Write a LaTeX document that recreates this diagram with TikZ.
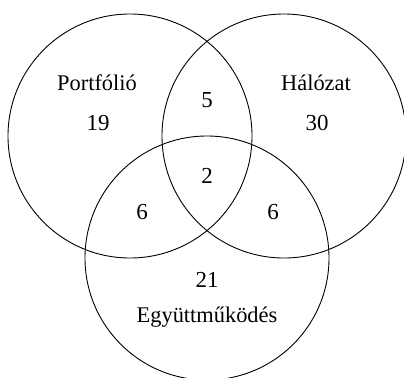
\documentclass[tikz,border=0pt]{standalone}
\usepackage{fontspec}
\setmainfont{Liberation Serif}
\usetikzlibrary{positioning}
\tikzset{
  vset/.style  ={circle, draw=black, line width=0.9bp, minimum size=244bp, inner sep=0pt},
  vname/.style ={inner sep=0pt, font=\fontsize{22.5}{26}\selectfont},
  vcount/.style={inner sep=0pt, font=\fontsize{23}{26}\selectfont},
}
\begin{document}
\begin{tikzpicture}[x=1bp, y=-1bp]
  \useasboundingbox (0,0) rectangle (404,378);
  \node[vset] (port) at (130,136) {};
  \node[vset] (halo) at (284,136) {};
  \node[vset] (egyu) at (207,258) {};
  % names of the sets
  \node[vname] (nport) at (97,83)  {Portfólió};
  \node[vname] (nhalo) at (316,83) {Hálózat};
  \node[vname] (negyu) at (207,317) {Együttműködés};
  % counts
  \node[vcount] (cport) at (98,123)  {19};
  \node[vcount] (chalo) at (317,123) {30};
  \node[vcount] (cegyu) at (207,280) {21};
  \node[vcount] (cph)   at (207,100) {5};
  \node[vcount] (cpe)   at (142,212) {6};
  \node[vcount] (che)   at (273,212) {6};
  \node[vcount] (call)  at (207,176) {2};
\end{tikzpicture}
\end{document}
